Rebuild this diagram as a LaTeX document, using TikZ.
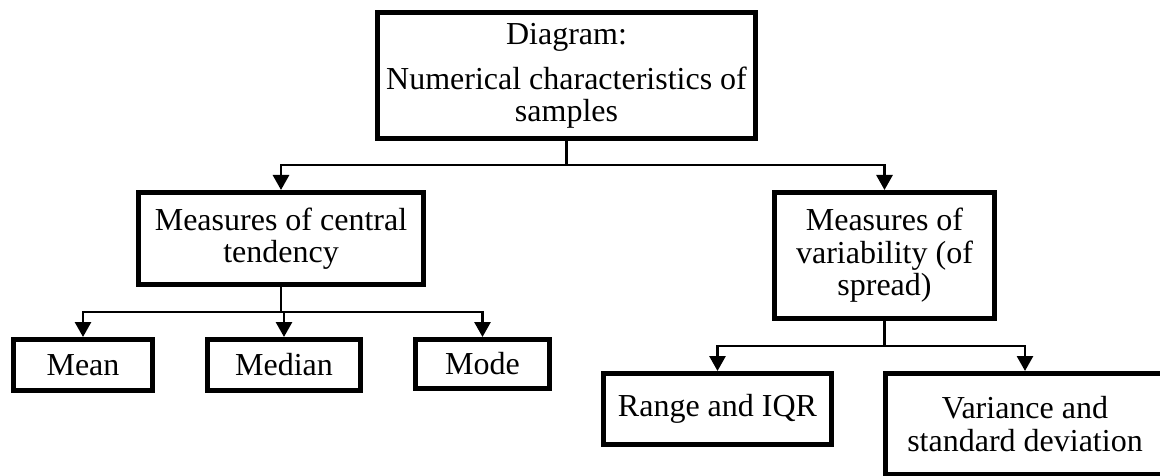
\documentclass[tikz,border=0pt]{standalone}
\usepackage{fontspec}
\setmainfont{Liberation Serif}
\usetikzlibrary{arrows.meta}

\begin{document}
\begin{tikzpicture}[x=1pt, y=-1pt,
  box/.style={draw, line width=5pt, inner sep=0pt, outer sep=2.5pt,
    align=center, font=\fontsize{32}{32.5}\selectfont},
  trunk/.style={line width=2.8pt},
  link/.style={line width=2.8pt, -{Triangle[length=15pt, width=16pt]}}]

  \useasboundingbox (0,0) rectangle (1160,476);

  % root
  \node[box, minimum width=378pt, minimum height=126pt] (root) at (566.5,76)
    {Diagram:\\[12pt]Numerical characteristics of\\samples};

  % second level
  \node[box, minimum width=285pt, minimum height=92pt] (central) at (281,238.5)
    {Measures of central\\tendency};
  \node[box, minimum width=220pt, minimum height=126pt] (spread) at (884.5,255.5)
    {Measures of\\variability (of\\spread)};

  % leaves of central tendency
  \node[box, minimum width=139pt, minimum height=51pt] (mean) at (83,365) {Mean};
  \node[box, minimum width=153pt, minimum height=51pt] (median) at (284,365) {Median};
  \node[box, minimum width=134pt, minimum height=49pt] (mode) at (482.5,364) {Mode};

  % leaves of variability
  \node[box, minimum width=228pt, minimum height=71pt] (range) at (717.5,409)
    {Range and IQR};
  \node[box, minimum width=279pt, minimum height=101pt] (variance) at (1025,424)
    {Variance and\\standard deviation};

  % connectors
  \draw[trunk] (root.south) -- ++(0,23.5) coordinate (hubA);
  \draw[link] (hubA) -| (central.north);
  \draw[link] (hubA) -| (spread.north);

  \draw[trunk] (central.south) -- ++(0,25) coordinate (hubB);
  \draw[link] (hubB) -| (mean.north);
  \draw[link] (hubB) -| (median.north);
  \draw[link] (hubB) -| (mode.north);

  \draw[trunk] (spread.south) -- ++(0,25) coordinate (hubC);
  \draw[link] (hubC) -| (range.north);
  \draw[link] (hubC) -| (variance.north);
\end{tikzpicture}
\end{document}
